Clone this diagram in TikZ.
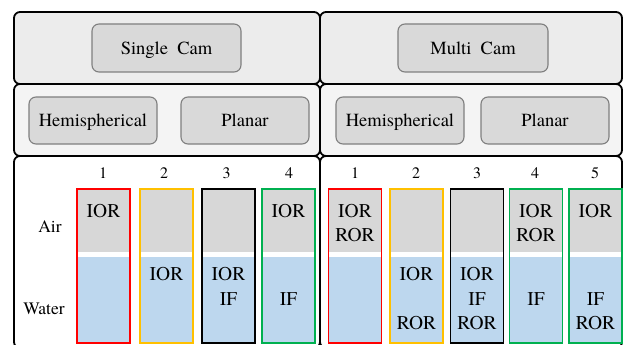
\documentclass[tikz,border=0pt]{standalone}
\usepackage{fontspec}
\setmainfont{TeX Gyre Termes}
\newfontfamily\tnr{TeX Gyre Termes}
\definecolor{rowA}{HTML}{ECECEC}
\definecolor{rowB}{HTML}{F4F4F4}
\definecolor{boxfill}{HTML}{D9D9D9}
\definecolor{boxline}{HTML}{7F7F7F}
\definecolor{aircol}{HTML}{D7D7D7}
\definecolor{watcol}{HTML}{BDD7EE}
\definecolor{cred}{HTML}{FF0000}
\definecolor{cyel}{HTML}{FFC000}
\definecolor{cgrn}{HTML}{00B050}
\tikzset{
  panel/.style={draw=black, line width=1.8pt, rounded corners=6pt, inner sep=0pt, outer sep=0pt},
  catbox/.style={draw=boxline, fill=boxfill, line width=1.1pt, rounded corners=7pt, inner sep=0pt,
     text height=12.5pt, text depth=0pt, font=\tnr\fontsize{18.5}{20}\selectfont},
  barbox/.style={line width=1.8pt, minimum width=53pt, minimum height=154pt, inner sep=0pt, outer sep=0pt},
  lab/.style={inner sep=0pt, font=\tnr\fontsize{19.5}{21}\selectfont},
  side/.style={inner sep=0pt, font=\tnr\fontsize{17.5}{20}\selectfont},
  num/.style={inner sep=0pt, font=\tnr\fontsize{16}{18}\selectfont},
}
\newcommand\mybar[3]{%
  \fill[aircol] (#2-26.5,189) rectangle (#2+26.5,252);
  \fill[watcol] (#2-26.5,257) rectangle (#2+26.5,343);
  \node[barbox, draw=#3] (#1) at (#2,266) {};
}
\begin{document}
\begin{tikzpicture}[x=1pt,y=-1pt]
\useasboundingbox (0,0) rectangle (624,345);
\clip (0,0) rectangle (624,345);
% panels
\node[panel, fill=rowA, minimum width=306pt, minimum height=72pt] (pL1) at (167,48) {};
\node[panel, fill=rowA, minimum width=302pt, minimum height=72pt] (pR1) at (471,48) {};
\node[panel, fill=rowB, minimum width=306pt, minimum height=72pt] (pL2) at (167,120) {};
\node[panel, fill=rowB, minimum width=302pt, minimum height=72pt] (pR2) at (471,120) {};
\node[panel, fill=white, minimum width=306pt, minimum height=192pt] (pL3) at (167,252) {};
\node[panel, fill=white, minimum width=302pt, minimum height=192pt] (pR3) at (471,252) {};
% category boxes
\node[catbox, minimum width=149pt, minimum height=48pt] (single) at (166.5,48) {Single\ \ Cam};
\node[catbox, minimum width=150pt, minimum height=48pt] (multi) at (473,48) {Multi\ \ Cam};
\node[catbox, minimum width=128pt, minimum height=47pt] (hemL) at (93,120.5) {Hemispherical};
\node[catbox, minimum width=128pt, minimum height=47pt] (plaL) at (245,120.5) {Planar};
\node[catbox, minimum width=128pt, minimum height=47pt] (hemR) at (400,120.5) {Hemispherical};
\node[catbox, minimum width=128pt, minimum height=47pt] (plaR) at (545,120.5) {Planar};
% side labels
\node[side] (air) at (50,227) {Air};
\node[side] (water) at (44,309) {Water};
% bars left
\mybar{bL1}{103.5}{cred}
\mybar{bL2}{166.5}{cyel}
\mybar{bL3}{228.5}{black}
\mybar{bL4}{288.5}{cgrn}
% bars right
\mybar{bR1}{355}{cred}
\mybar{bR2}{416.5}{cyel}
\mybar{bR3}{477}{black}
\mybar{bR4}{536}{cgrn}
\mybar{bR5}{595.5}{cgrn}
% numbers
\node[num] (nL1) at (103,173) {1};
\node[num] (nL2) at (164,173) {2};
\node[num] (nL3) at (226.5,173) {3};
\node[num] (nL4) at (289,173) {4};
\node[num] (nR1) at (355,173) {1};
\node[num] (nR2) at (416,173) {2};
\node[num] (nR3) at (477,173) {3};
\node[num] (nR4) at (535,173) {4};
\node[num] (nR5) at (595,173) {5};
% texts left
\node[lab] (tL1a) at (103.5,211) {IOR};
\node[lab] (tL2w) at (166.5,274) {IOR};
\node[lab] (tL3w) at (228.5,274) {IOR};
\node[lab] (tL3f) at (228.5,299) {IF};
\node[lab] (tL4a) at (288.5,211) {IOR};
\node[lab] (tL4f) at (288.5,299) {IF};
% texts right
\node[lab] (tR1a) at (355,211) {IOR};
\node[lab] (tR1r) at (355,235) {ROR};
\node[lab] (tR2w) at (416.5,274) {IOR};
\node[lab] (tR2r) at (416.5,323) {ROR};
\node[lab] (tR3w) at (477,274) {IOR};
\node[lab] (tR3f) at (477,299) {IF};
\node[lab] (tR3r) at (477,323) {ROR};
\node[lab] (tR4a) at (536,211) {IOR};
\node[lab] (tR4r) at (536,235) {ROR};
\node[lab] (tR4f) at (536,299) {IF};
\node[lab] (tR5a) at (595.5,211) {IOR};
\node[lab] (tR5f) at (595.5,299) {IF};
\node[lab] (tR5r) at (595.5,323) {ROR};
\end{tikzpicture}
\end{document}
